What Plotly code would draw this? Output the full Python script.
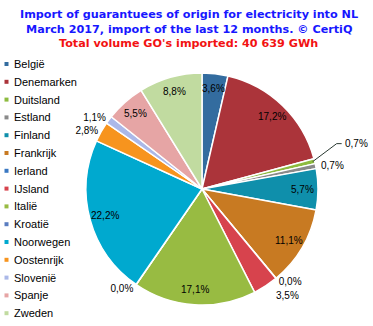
import math
import plotly.graph_objects as go

countries = ["België", "Denemarken", "Duitsland", "Estland", "Finland", "Frankrijk",
             "Ierland", "IJsland", "Italië", "Kroatië", "Noorwegen", "Oostenrijk",
             "Slovenië", "Spanje", "Zweden"]
shares = [3.6, 17.2, 0.7, 0.7, 5.7, 11.1, 0.02, 3.5, 17.1, 0.02, 22.2, 2.8, 1.1, 5.5, 8.8]
colors = ["#336c9f", "#ab343a", "#8dbb3f", "#8a8a8a", "#0f8fab", "#c87a22",
          "#3a78c2", "#d7434d", "#98bb42", "#5a7dc0", "#00a9cf", "#f7941e",
          "#abb8e8", "#e6a5a5", "#c1dba0"]
# label placement: "in" = inside label, "out" = plotly outside label,
# "edge" = just outside the rim, "leader" = with leader line, "shift" = displaced outside
placement = ["in", "in", "leader", "edge", "in", "in",
             "out", "shift", "in", "out", "in", "out",
             "out", "in", "in"]

labels_txt = [f"{v:.1f}%".replace(".", ",") for v in shares]

W, H = 373, 326
cx, cy, R = 202, 189, 116
FONT = "Liberation Sans, Arial"

def px2paper(x, y):
    return x / W, 1 - y / H

textpos = ["outside" if p == "out" else "none" for p in placement]

fig = go.Figure(go.Pie(
    labels=countries, values=shares, text=labels_txt, textinfo="text",
    textposition=textpos,
    sort=False, direction="clockwise", rotation=0,
    marker=dict(colors=colors, line=dict(color="white", width=1.5)),
    textfont=dict(family=FONT, size=10, color="black"),
    outsidetextfont=dict(family=FONT, size=10, color="black"),
    domain=dict(x=[(cx - R) / W, (cx + R) / W], y=[(H - cy - R) / H, (H - cy + R) / H]),
    hoverinfo="label+percent",
    showlegend=False,
))

total = sum(shares)
cum = 0.0
for name, v, t, p in zip(countries, shares, labels_txt, placement):
    mid = (cum + v / 2) / total * 2 * math.pi
    cum += v
    s, c = math.sin(mid), math.cos(mid)
    if p == "in":
        r = 0.87 * R
        x, y = px2paper(cx + r * s, cy - r * c)
        fig.add_annotation(text=t, x=x, y=y, xref="paper", yref="paper", showarrow=False,
                           xanchor="center", yanchor="middle",
                           font=dict(family=FONT, size=10, color="black"))
    elif p == "edge":
        r = R + 3
        x, y = px2paper(cx + r * s, cy - r * c)
        fig.add_annotation(text=t, x=x, y=y, xref="paper", yref="paper", showarrow=False,
                           xanchor="left", yanchor="middle",
                           font=dict(family=FONT, size=10, color="black"))
    elif p == "shift":
        r = R + 8
        x, y = px2paper(cx + r * s + 17, cy - r * c + 3)
        fig.add_annotation(text=t, x=x, y=y, xref="paper", yref="paper", showarrow=False,
                           xanchor="center", yanchor="middle",
                           font=dict(family=FONT, size=10, color="black"))
    elif p == "leader":
        x0, y0 = cx + (R - 2) * s, cy - (R - 2) * c
        x1, y1 = x0 + 24, y0 - 18
        x2, y2 = x1 + 5, y1
        pts = [px2paper(*q) for q in [(x0, y0), (x1, y1), (x2, y2)]]
        path = "M {} {} L {} {} L {} {}".format(pts[0][0], pts[0][1], pts[1][0], pts[1][1],
                                                pts[2][0], pts[2][1])
        fig.add_shape(type="path", path=path, xref="paper", yref="paper",
                      line=dict(color="#2b3a33", width=1))
        tx, ty = px2paper(x2 + 1, y2)
        fig.add_annotation(text=t, x=tx, y=ty, xref="paper", yref="paper", showarrow=False,
                           xanchor="left", yanchor="middle",
                           font=dict(family=FONT, size=10, color="black"))

# legend (custom, to match compact spacing)
for i, (name, col) in enumerate(zip(countries, colors)):
    yc = 64 + 17.8 * i
    x0, y0 = px2paper(4.5, yc - 2)
    x1, y1 = px2paper(8.5, yc + 2)
    fig.add_shape(type="rect", x0=x0, x1=x1, y0=y1, y1=y0, xref="paper", yref="paper",
                  fillcolor=col, line=dict(width=0))
    tx, ty = px2paper(11.5, yc)
    fig.add_annotation(text=name, x=tx, y=ty, xref="paper", yref="paper", showarrow=False,
                       xanchor="left", yanchor="middle",
                       font=dict(family=FONT, size=11, color="black"))

titles = [("Import of guarantuees of origin for electricity into NL", 15, "#1717ff"),
          ("March 2017, import of the last 12 months. © CertiQ", 29, "#1717ff"),
          ("Total volume GO's imported: 40 639 GWh", 43, "#f21212")]
for t, ypx, col in titles:
    fig.add_annotation(text=f"<b>{t}</b>", x=0.5 + 2 / W, y=1 - ypx / H, xref="paper", yref="paper",
                       xanchor="center", yanchor="middle", showarrow=False,
                       font=dict(family="DejaVu Sans", size=11.2, color=col))

fig.update_layout(
    width=W, height=H,
    margin=dict(l=0, r=0, t=0, b=0),
    paper_bgcolor="white",
    showlegend=False,
)

fig.write_html("out.html")
